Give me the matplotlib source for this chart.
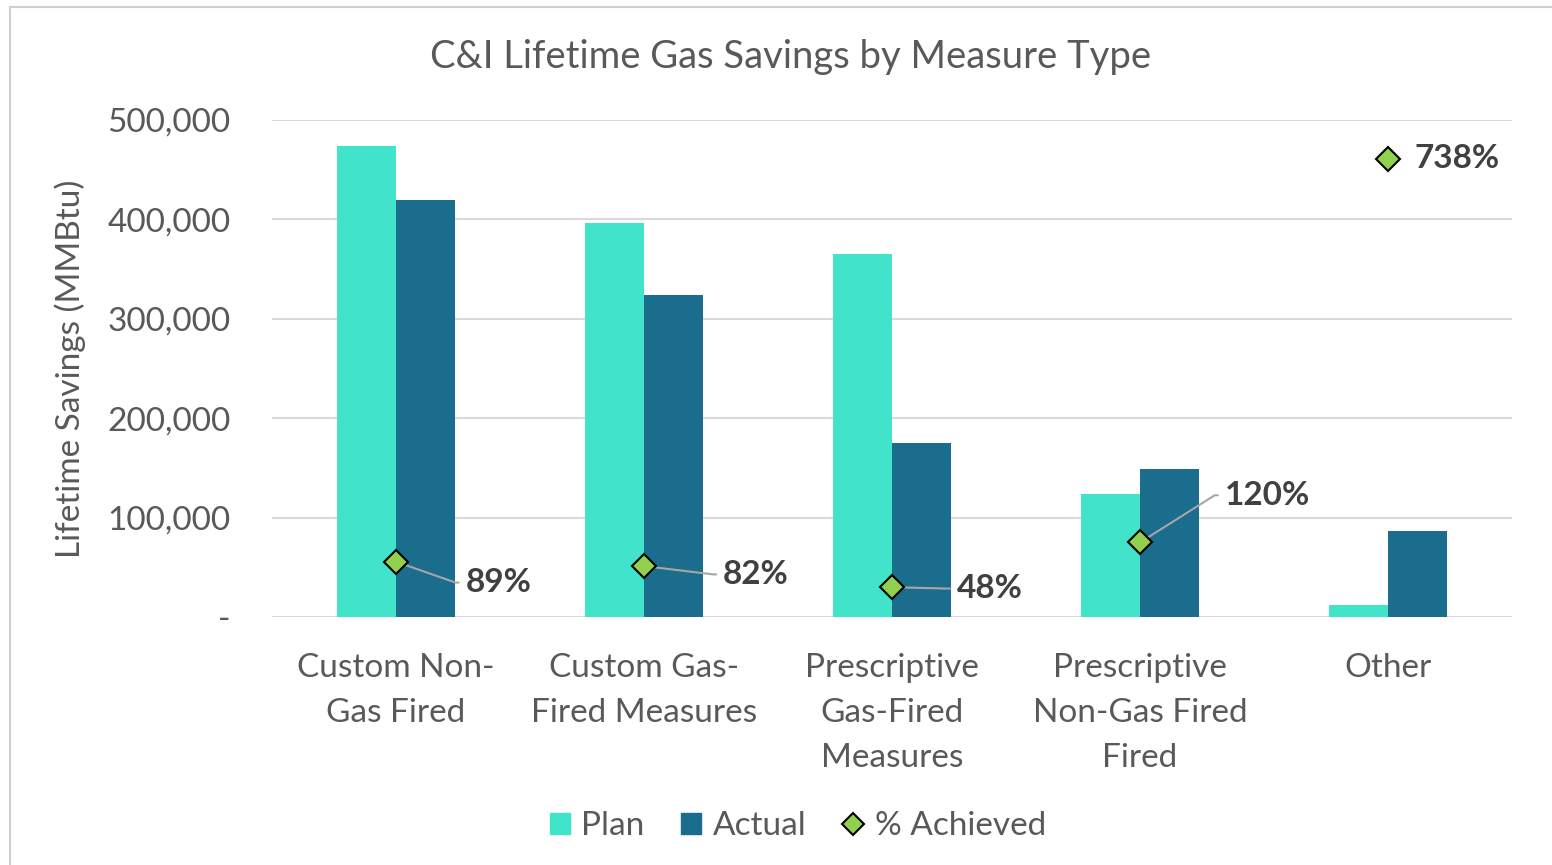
import numpy as np
import matplotlib
matplotlib.use("Agg")
from matplotlib import pyplot as plt
from matplotlib.lines import Line2D
from matplotlib.patches import Patch, Rectangle
from matplotlib.ticker import FuncFormatter

plt.rcParams['font.family'] = ['Lato', 'DejaVu Sans']

categories = ['Custom Non-\nGas Fired', 'Custom Gas-\nFired Measures',
              'Prescriptive\nGas-Fired\nMeasures', 'Prescriptive\nNon-Gas Fired\nFired',
              'Other']
plan = [474000, 396000, 365000, 124000, 11700]
actual = [420000, 324000, 175000, 149000, 86300]
pct = [0.89, 0.82, 0.48, 1.20, 7.38]
pct_labels = ['89%', '82%', '48%', '120%', '738%']
# label offsets (points) from the marker, and whether a leader line is drawn
lbl_off = [(50, -15), (57, -6), (47, -1), (61, 34), (19, 0)]
leader = [True, True, True, True, False]

c_plan = '#41E3CB'
c_act = '#1B6D8D'
c_pct = '#92D050'
txt = '#595959'

fig = plt.figure(figsize=(15.52, 8.65), dpi=100)
fig.patches.append(Rectangle((10/1552, -0.05), 1.2, 1 - 7/865 + 0.05, transform=fig.transFigure,
                             fill=False, edgecolor='#D0D0D0', linewidth=1.5))
ax = fig.add_axes([272/1552, 1 - 617/865, 1240/1552, 497/865])

x = np.arange(len(categories))
w = 0.238
ax.bar(x - w/2, plan, w, color=c_plan, zorder=2, label='Plan')
ax.bar(x + w/2, actual, w, color=c_act, zorder=2, label='Actual')

ax.set_xlim(-0.5, len(categories) - 0.5)
ax.set_ylim(0, 500000)
ax.set_yticks(np.arange(0, 500001, 100000))
ax.yaxis.set_major_formatter(FuncFormatter(lambda v, p: '-' if v == 0 else f'{int(v):,}'))
ax.grid(axis='y', color='#D9D9D9', linewidth=1.5, zorder=0)
for s in ax.spines.values():
    s.set_visible(False)
ax.tick_params(length=0, labelsize=24, colors=txt)
ax.tick_params(axis='y', pad=30)
ax.set_xticks(x)
ax.set_xticklabels(categories, fontsize=24, color=txt, linespacing=1.62)
ax.tick_params(axis='x', pad=26)
for lab in ax.get_yticklabels():
    lab.set_color(txt)
ax.set_ylabel('Lifetime Savings (MMBtu)', fontsize=24, color=txt, labelpad=15)

ax2 = ax.twinx()
ax2.set_ylim(0, 8)
ax2.axis('off')
ax2.plot(x, pct, linestyle='none', marker='D', markersize=12, markerfacecolor=c_pct,
         markeredgecolor='black', markeredgewidth=1.5, zorder=5)
for i in range(len(x)):
    dx, dy = lbl_off[i]
    props = None
    if leader[i]:
        props = dict(arrowstyle='-', color='#A6A6A6', lw=1.5, shrinkA=3, shrinkB=0,
                     relpos=(0, 0.5),
                     connectionstyle='arc,angleA=180,armA=10,angleB=0,armB=0,rad=0')
    ax2.annotate(pct_labels[i], xy=(x[i], pct[i]), xytext=(dx, dy), textcoords='offset points',
                 fontsize=24, fontweight='bold', color='#404040', ha='left', va='center',
                 arrowprops=props, zorder=4)

fig.text(791/1552, 1 - 57/865, 'C&I Lifetime Gas Savings by Measure Type', ha='center',
         va='center', fontsize=27.5, color=txt)

handles = [Patch(color=c_plan, label='Plan'), Patch(color=c_act, label='Actual'),
           Line2D([], [], linestyle='none', marker='D', markersize=11, markerfacecolor=c_pct,
                  markeredgecolor='black', markeredgewidth=1.5, label='% Achieved')]
leg = fig.legend(handles=handles, loc='center', bbox_to_anchor=(798/1552, 1 - 826/865), ncol=3,
                 frameon=False, fontsize=24, handlelength=0.6, handleheight=0.6,
                 handletextpad=0.35, columnspacing=1.1)
for t in leg.get_texts():
    t.set_color(txt)

fig.savefig('out.png', dpi=100)
